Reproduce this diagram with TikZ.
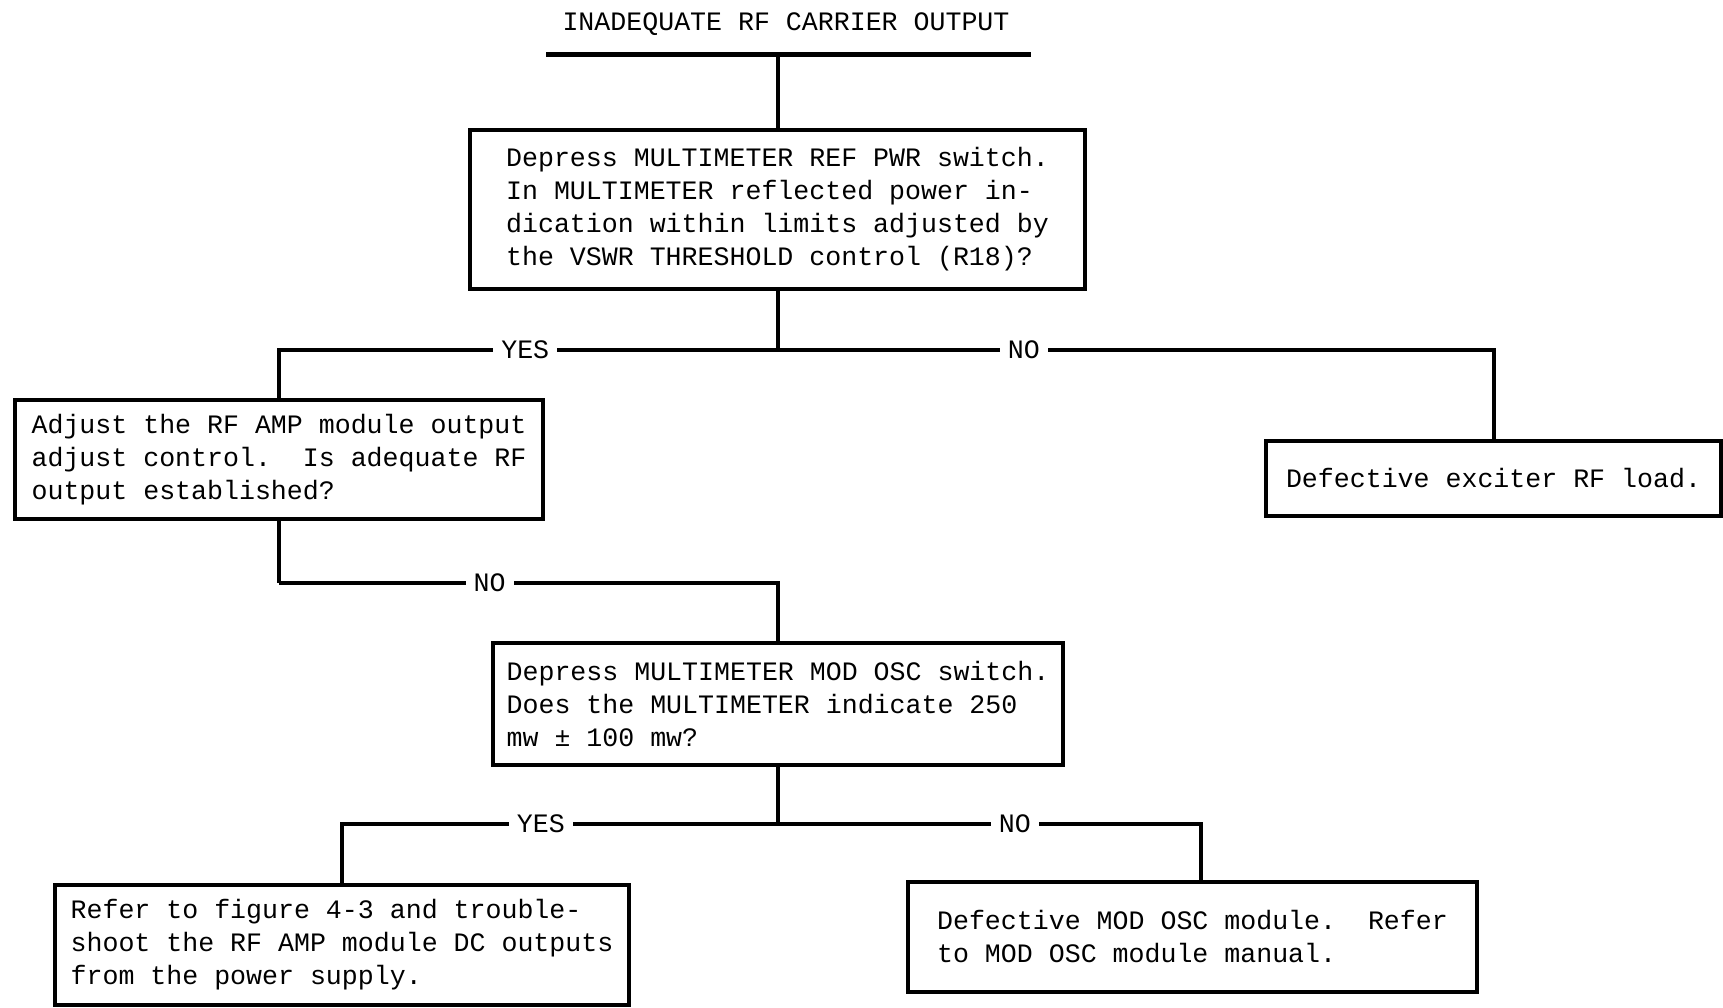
\documentclass[tikz,border=0pt]{standalone}
\usepackage{fontspec}
\setmonofont{Liberation Mono}
\usetikzlibrary{positioning}
\frenchspacing
\tikzset{
  txt/.style={font=\ttfamily\fontsize{26.6}{33}\selectfont},
  box/.style={txt, draw, line width=4pt, align=left, inner sep=0pt},
  lbl/.style={txt, fill=white, inner xsep=8pt, inner ysep=4pt},
  wire/.style={line width=4pt}
}
\begin{document}
\begin{tikzpicture}[x=1pt,y=-1pt]
\useasboundingbox (0,0) rectangle (1723,1008);
% heading
\node[txt] (title) at (786,24) {INADEQUATE RF CARRIER OUTPUT};
\coordinate (ul1) at (546,55);
\coordinate (ul2) at (1031,55);
\draw[line width=5pt] (ul1) -- (ul2);
% boxes
\node[box, minimum width=615pt, minimum height=159pt] (q1) at (777.5,209.5)
  {Depress MULTIMETER REF PWR switch.\\In MULTIMETER reflected power in-\\dication within limits adjusted by\\the VSWR THRESHOLD control (R18)?};
\node[box, minimum width=528pt, minimum height=119pt] (q2) at (279,459.5)
  {Adjust the RF AMP module output\\adjust control.~ Is adequate RF\\output established?};
\node[box, minimum width=455pt, minimum height=75pt] (load) at (1493.5,478.5)
  {Defective exciter RF load.};
\node[box, minimum width=570pt, minimum height=122pt] (q3) at (778,704)
  {Depress MULTIMETER MOD OSC switch.\\Does the MULTIMETER indicate 250\\mw ± 100 mw?};
\node[box, minimum width=574pt, minimum height=120pt] (dcout) at (342,945)
  {Refer to figure 4-3 and trouble-\\shoot the RF AMP module DC outputs\\from the power supply.};
\node[box, minimum width=569pt, minimum height=110pt] (modosc) at (1192.5,937)
  {Defective MOD OSC module.~ Refer\\to MOD OSC module manual.};
% connectors
\coordinate (j1) at (777.5,350);
\coordinate (j2) at (279,583);
\coordinate (j3) at (778,824);
\draw[wire] (q1.north |- ul1) -- (q1.north);
\draw[wire] (q1.south) -- (j1);
\draw[wire] (j1) -| node[lbl,pos=0.253]{YES} (q2.north);
\draw[wire] (j1) -| node[lbl,pos=0.172]{NO} (load.north);
\draw[wire] (q2.south) -- (j2);
\draw[wire] (j2) -| node[lbl,pos=0.211]{NO} (q3.north);
\draw[wire] (q3.south) -- (j3);
\draw[wire] (j3) -| node[lbl,pos=0.272]{YES} (dcout.north);
\draw[wire] (j3) -| node[lbl,pos=0.28]{NO} ([xshift=8.5pt]modosc.north);
\end{tikzpicture}
\end{document}
